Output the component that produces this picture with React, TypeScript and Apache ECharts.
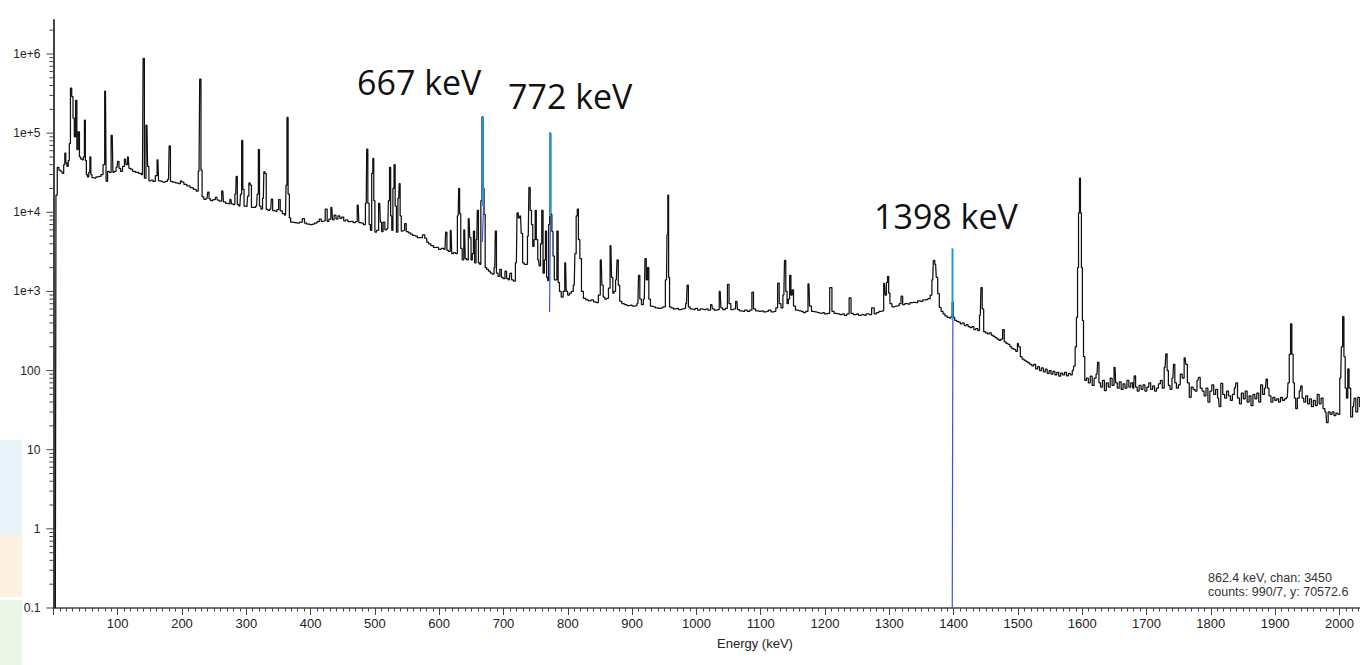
import { useEffect, useRef } from "react";
import * as echarts from "echarts";

// ---------------- data (energy keV, counts) ----------------
const spectrumLow: [number, number][] = [
  [3, 0.1], [5, 16500], [7, 37000], [10, 34000], [13, 33000], [15, 31000], [17, 40000], [18.5, 56000],
  [20, 42000], [22, 38000], [24, 45000], [25.5, 74000], [27.5, 370000], [29.5, 290000], [31.5, 155000],
  [33.5, 90000], [35.5, 260000], [37.5, 62000], [39.5, 104000], [41.5, 50000], [43.5, 47000], [45.5, 46000],
  [47.5, 50000], [49, 146000], [50.5, 45000], [52, 30000], [54, 28000], [56, 32000], [57.5, 50000],
  [59, 30000], [61, 27500], [64, 27000], [68, 28000], [72, 28500], [76, 30000], [78.5, 40000],
  [81, 340000], [83, 24600], [85.5, 33000], [88, 32000], [91.5, 94000], [93.5, 32000], [96, 33000],
  [99, 37000], [101, 44000], [103, 36000], [106, 33000], [109, 38000], [112, 47000], [114, 40000],
  [116.5, 50000], [118.5, 36000], [121, 35000], [125, 33000], [130, 32000], [135, 31000], [138.5, 30000],
  [140.5, 880000], [142.5, 27000], [145.5, 126000], [147.5, 38000], [149.5, 25000], [153, 25500],
  [157, 24500], [160, 29000], [162.5, 46000], [164.5, 25000], [168, 24500], [172, 24000], [176, 24500],
  [179, 26000], [181, 69000], [183, 24500], [187, 24000], [192, 23500], [196, 23000], [199, 25000],
  [201, 24000], [205, 22500], [210, 21500], [215, 20500], [220, 19500], [224, 18500], [226.5, 33000],
  [228.5, 480000], [230.5, 34000], [232, 15700], [236, 14600], [239, 15000], [241, 18000], [243, 14800],
  [246, 14000], [250, 14500], [254, 15500], [256, 14200], [260, 13800], [263.5, 18600], [265.5, 13500],
  [270, 13000], [273, 12800], [276, 14600], [278, 12800], [281, 12500], [283.5, 17000], [285, 28500],
  [287, 12500], [290, 12000], [292, 17000], [293.5, 81000], [295.5, 19500], [297.5, 12000], [301, 11800],
  [303, 16000], [305, 23500], [307, 22000], [309, 11500],
];

const spectrumMid: [number, number][] = [
  [313, 11500], [316, 12000], [318, 17000], [319.5, 62000], [321.5, 12000], [324, 11000], [326.5, 15000],
  [328, 32500], [330, 31000], [332, 10900], [335, 10600], [338, 11000], [340, 14700], [342, 10500],
  [346, 10300], [349, 10800], [351.5, 14500], [354, 10400], [358, 9600], [361, 9200], [362.5, 22000],
  [364, 158000], [366, 17000], [368, 8500], [370, 7500], [375, 7400], [380, 7300], [385, 7500], [389, 8300],
  [392, 7300], [396, 7100], [400, 7000], [404, 7100], [408, 7300], [412, 7600], [415, 8200], [418, 7700],
  [421, 7800], [424.5, 11000], [427, 7700], [430, 8200], [433, 11500], [435, 8000], [438, 9200], [441, 8200],
  [444, 9000], [447, 8400], [450, 8700], [453, 7800], [456, 8000], [460, 7600], [464, 7700], [468, 7400],
  [471, 7600], [474, 12300], [476, 7400], [480, 7300], [484, 7000], [486.5, 13000], [488, 63000],
  [490, 13000], [492, 7000], [494, 5900], [496, 31000], [497.5, 48000], [499, 14000], [501, 5600],
  [504, 5900], [507.5, 13000], [509.5, 7500], [511.5, 5700], [514, 7500], [517, 6000], [520, 6200],
  [522, 14000], [523.5, 37000], [525.5, 9000], [527, 5900], [529, 20000], [530.5, 40000], [532.5, 12000],
  [534.5, 5600], [537, 15000], [538.5, 23000], [540, 9000], [542, 5800], [545, 5900], [547.5, 7200],
  [550, 5700], [554, 5500], [557, 5300], [560, 5100], [564, 5000], [568, 4800], [572, 4800], [576, 5200],
  [579, 4700], [582, 4200], [585, 4000], [589, 3800], [593, 3600], [597, 3600], [601, 3400], [605, 3500],
  [609, 3400], [611, 5600], [613, 3300], [616, 3200], [618.5, 5900], [620.5, 3000], [624, 3100],
  [627, 3000], [629.5, 9000], [631, 20000], [632.5, 9600], [634.5, 3500], [637, 2500], [639.5, 6000],
  [641.5, 2600], [644, 2500], [646.5, 8300], [648.5, 4800], [650.5, 2500], [652.5, 3000], [654, 5800],
  [656, 2300], [658.5, 4500], [660, 10600], [662, 2300], [664, 2200], [665.5, 14000], [667.5, 160000],
  [669, 20000], [670.5, 9400], [672.5, 2000], [675, 1900], [678, 1800], [681, 1700], [684, 1650],
  [686.5, 2000], [688, 5800], [690, 1700], [693, 1550], [695.5, 1900], [698, 1500],
];

const spectrumUpper: [number, number][] = [
  [701, 1450], [703.5, 1800], [706, 1450], [709, 1400], [711, 1700], [714, 1400], [717, 1350], [720, 2300],
  [722, 9800], [724, 8500], [726.5, 9000], [728.5, 5400], [731, 2300], [733.5, 2200], [736, 2200],
  [738.5, 5000], [740.5, 20600], [742.5, 10600], [744.5, 7000], [746.5, 3700], [748.5, 4500],
  [750, 10600], [752, 4500], [754.5, 2500], [756.5, 2100], [758.5, 4000], [760.5, 10600], [762.5, 1700],
  [764.5, 2500], [766, 5800], [768, 1500], [769.5, 1370], [771, 7000], [772.5, 100000], [774.5, 9400],
  [776, 5700], [778, 2800], [780, 1400], [782, 1400], [784, 5800], [786, 1300], [788, 1000], [791.5, 850],
  [794, 1000], [796.5, 2300], [798.5, 1000], [801, 900], [804, 950], [807, 1000], [810, 1200], [812, 3000],
  [814, 9000], [815.5, 11000], [817.5, 4500], [820, 2600], [822.5, 1000], [826, 820], [830, 780],
  [834, 760], [838, 780], [842, 740], [846, 720], [849, 900], [852, 2500], [854, 1200], [856, 850],
  [859, 800], [862, 820], [864.5, 1100], [867, 3800], [869, 1500], [871, 950], [873, 1000], [875.5, 1400],
  [877.5, 2500], [879.5, 1200], [882, 750], [886, 700], [890, 680], [894, 660], [898, 670], [902, 650],
  [906, 660], [909, 700], [911, 1600], [913, 800], [916, 680], [919, 800], [921, 2600], [923, 1400],
  [925, 2000], [927, 800], [930, 650], [934, 640], [938, 620], [942, 610], [946, 620], [950, 640],
  [953.5, 1400], [955, 5200], [956, 16500], [957.5, 1500], [959, 640], [962, 620], [966, 600], [970, 610],
  [974, 590], [978, 600], [982, 610], [984.5, 700], [986.5, 1200], [988.5, 640], [992, 600], [996, 590],
  [1000, 610], [1004, 580], [1008, 600], [1012, 590], [1016, 600], [1020, 580], [1024, 680], [1026, 600],
  [1030, 580], [1034, 590], [1037, 1000], [1039, 620], [1043, 590], [1047, 610], [1049.5, 1230],
  [1052, 700], [1055, 590], [1059, 600], [1063, 750], [1065, 590], [1069, 570], [1073, 560], [1077, 580],
  [1081, 560], [1085, 580], [1087.5, 980], [1090, 600], [1094, 570], [1098, 560],
];

const spectrumHigh: [number, number][] = [
  [1102, 570], [1106, 550], [1110, 560], [1114, 580], [1118, 550], [1122, 560], [1125, 620], [1127.5, 1270],
  [1130, 700], [1133, 620], [1136, 900], [1138, 2460], [1140, 1000], [1142, 700], [1144, 800], [1146, 1600],
  [1148, 900], [1150, 1050], [1152, 650], [1156, 580], [1160, 570], [1164, 560], [1168, 540], [1172, 560],
  [1175, 1250], [1177, 650], [1181, 560], [1185, 550], [1189, 540], [1193, 530], [1197, 540], [1201, 520],
  [1205, 530], [1209.5, 1120], [1212, 560], [1216, 530], [1220, 520], [1224, 510], [1228, 520], [1232, 500],
  [1236, 520], [1239, 830], [1242, 530], [1246, 510], [1250, 520], [1254, 500], [1258, 510], [1262, 500],
  [1266, 520], [1270, 510], [1275, 620], [1278, 520], [1282, 540], [1286, 560], [1290, 570], [1292.5, 1260],
  [1294.5, 900], [1296.5, 1300], [1298, 1550], [1300, 950], [1302, 700], [1306, 640], [1310, 650],
  [1314, 660], [1317, 700], [1319.5, 870], [1322, 680], [1326, 700], [1330, 690], [1334, 720], [1338, 730],
  [1342, 720], [1346, 760], [1350, 750], [1354, 780], [1358, 790], [1362, 810], [1365, 900], [1367.5, 1400],
  [1369.5, 2460], [1372, 2200], [1374, 1500], [1376.5, 940], [1379, 630], [1382, 560], [1385, 520],
  [1388, 490], [1392, 470], [1395, 460], [1397, 480], [1398.5, 730], [1400.5, 470], [1403, 430], [1406, 420],
  [1409, 410], [1412, 390], [1415, 400], [1418, 370], [1421, 380], [1424, 360], [1427, 350], [1430, 360],
  [1433, 330], [1436, 340], [1439, 320], [1441.5, 500], [1443.5, 1120], [1445.5, 600], [1448, 310],
  [1451, 300], [1454, 290], [1457, 300], [1460, 280], [1463, 270], [1466, 260], [1469, 250], [1472, 240],
  [1475, 250], [1477.5, 330], [1480, 230], [1483, 220], [1486, 215], [1489, 200], [1492, 190], [1495, 185],
  [1498, 175], [1500.5, 220], [1502.5, 200], [1505, 150], [1508, 140], [1511, 135], [1514, 130], [1517, 125],
  [1520, 120], [1523, 115], [1526, 120], [1529, 105], [1532, 112], [1535, 100], [1538, 108], [1541, 96],
  [1544, 104], [1547, 92], [1550, 100], [1553, 90], [1556, 98], [1559, 88], [1562, 95], [1565, 85],
  [1568, 93], [1571, 88], [1574, 95], [1577, 86], [1580, 92], [1583, 88], [1586, 100], [1588, 115],
  [1590, 200], [1592, 470], [1593.5, 2000], [1595, 9800], [1596.5, 27000], [1598, 9800], [1599.5, 2000],
  [1601, 430], [1603, 150], [1605, 75],
];

const spectrumTail: [number, number][] = [
  [1608, 80], [1611, 70], [1614, 85], [1617, 65], [1620, 80], [1623, 90], [1625, 127], [1627, 70],
  [1630, 62], [1633, 75], [1636, 56], [1639, 70], [1642, 62], [1645, 80], [1648, 65], [1651, 110],
  [1653, 70], [1656, 60], [1659, 72], [1662, 58], [1665, 68], [1668, 60], [1671, 75], [1674, 62],
  [1677, 70], [1680, 60], [1682, 86], [1684, 62], [1687, 55], [1690, 65], [1693, 58], [1696, 66],
  [1699, 55], [1702, 62], [1705, 70], [1708, 58], [1711, 64], [1714, 55], [1717, 60], [1720, 68],
  [1723, 75], [1726, 60], [1729, 110], [1731, 163], [1733, 100], [1735, 65], [1738, 58], [1741, 80],
  [1743, 120], [1745, 70], [1748, 60], [1751, 66], [1754, 90], [1757, 80], [1760, 145], [1762, 120],
  [1765, 70], [1768, 46], [1771, 62], [1774, 58], [1777, 55], [1780, 75], [1782, 82], [1785, 60],
  [1788, 55], [1791, 48], [1794, 60], [1797, 40], [1800, 55], [1803, 66], [1806, 50], [1809, 58],
  [1812, 45], [1814, 35], [1817, 69], [1820, 50], [1823, 45], [1826, 55], [1829, 48], [1832, 42],
  [1835, 50], [1838, 60], [1840, 70], [1843, 45], [1846, 38], [1849, 52], [1852, 44], [1855, 55],
  [1858, 40], [1861, 48], [1864, 36], [1867, 50], [1870, 44], [1873, 52], [1876, 40], [1879, 66],
  [1882, 50], [1885, 60], [1887, 78], [1889, 60], [1892, 48], [1895, 40], [1898, 46], [1901, 42],
  [1904, 44], [1907, 40], [1910, 46], [1913, 42], [1916, 44], [1919, 46], [1921, 70], [1923, 160],
  [1925, 390], [1927, 160], [1929, 70], [1931, 45], [1933, 33], [1936, 45], [1939, 55], [1941, 64],
  [1943, 45], [1946, 40], [1949, 48], [1952, 38], [1955, 44], [1958, 35], [1961, 42], [1964, 36],
  [1967, 50], [1970, 38], [1973, 45], [1976, 33], [1979, 30], [1981, 22], [1984, 30], [1987, 28],
  [1990, 30], [1993, 27], [1996, 29], [1999, 28], [2002, 80], [2004, 200], [2006, 480], [2008, 150],
  [2010, 60], [2012, 45], [2014, 105], [2016, 60], [2019, 26], [2022, 35], [2024, 45], [2027, 30],
  [2030, 46], [2033, 35],
];

// highlighted lines (fitted peaks)
const markerEnergy = [667.6, 772.3, 1398.3];
const markerTop = [160000, 102000, 3500];
const markerMid = [12000, 9000, 435];
const markerLowStartE = [669, 773, 1398.8];
const markerLowEndE = [667, 771.6, 1397.9];
const markerLowEnd = [4200, 550, 0.1];
const markerLabels = ["667 keV", "772 keV", "1398 keV"];

const xMin = 0;
const xMax = 2032;
const xStep = 100;
const yMin = 0.1;
const yMax = 2.69e6;
const xAxisTitle = "Energy (keV)";
const readout = ["862.4 keV, chan: 3450", "counts: 990/7, y: 70572.6"];

const AXIS_FONT = "'Liberation Sans', Arial, Helvetica, sans-serif";

export default function App() {
  const ref = useRef<HTMLDivElement>(null);

  useEffect(() => {
    if (!ref.current) return;
    const chart = echarts.init(ref.current, undefined, { renderer: "svg" });
    const spectrum = [...spectrumLow, ...spectrumMid, ...spectrumUpper, ...spectrumHigh, ...spectrumTail];

    const markerSeries: any[] = [];
    markerEnergy.forEach((e, i) => {
      markerSeries.push({
        type: "line",
        data: [[e, markerTop[i]], [e, markerMid[i]]],
        symbol: "none",
        lineStyle: { color: "#1b9be3", width: 2 },
        z: 5,
        silent: true,
      });
      markerSeries.push({
        type: "line",
        data: [[markerLowStartE[i], markerMid[i]], [markerLowEndE[i], markerLowEnd[i]]],
        symbol: "none",
        lineStyle: { color: "#3a55dc", width: 1.2 },
        z: 5,
        silent: true,
      });
    });

    chart.setOption({
      animation: false,
      backgroundColor: "#ffffff",
      grid: { left: 53.4, right: 0, top: 20, bottom: 57 },
      xAxis: {
        type: "value",
        min: xMin,
        max: xMax,
        interval: xStep,
        axisLine: { onZero: false, lineStyle: { color: "#444", width: 1.5 } },
        axisTick: { length: 7, lineStyle: { color: "#444", width: 1 } },
        minorTick: { show: true, splitNumber: 10, length: 3.5, lineStyle: { color: "#444", width: 1 } },
        axisLabel: {
          color: "#222",
          fontSize: 13,
          fontFamily: AXIS_FONT,
          margin: 9,
          showMinLabel: false,
          showMaxLabel: false,
          formatter: (v: number) => String(v),
        },
        splitLine: { show: false },
      },
      yAxis: {
        type: "log",
        logBase: 10,
        min: yMin,
        max: yMax,
        axisLine: { show: true, lineStyle: { color: "#444", width: 2 } },
        axisTick: { show: false },
        axisLabel: {
          color: "#222",
          fontSize: 12,
          fontFamily: AXIS_FONT,
          margin: 13,
          showMaxLabel: false,
          formatter: (v: number) => {
            const p = Math.round(Math.log10(v));
            return p >= 3 ? `1e+${p}` : String(Math.pow(10, p));
          },
        },
        splitLine: { show: false },
      },
      series: [
        {
          type: "line",
          data: spectrum,
          step: "middle",
          symbol: "none",
          lineStyle: { color: "#111", width: 1.25 },
          silent: true,
          z: 2,
        },
        ...markerSeries,
      ],
    });

    const elements: any[] = [];
    // faint slide-background tints at the left edge
    const tints = [
      { y: 440, h: 95, c: "rgba(190,222,240,0.35)" },
      { y: 535, h: 62, c: "rgba(250,215,170,0.35)" },
      { y: 600, h: 65, c: "rgba(200,230,190,0.35)" },
    ];
    tints.forEach((t) =>
      elements.push({
        type: "rect",
        silent: true,
        z: -10,
        shape: { x: 0, y: t.y, width: 22, height: t.h },
        style: { fill: t.c },
      })
    );

    // log-style ticks on the y axis (majors + 2..9 minors)
    const axisX = chart.convertToPixel({ xAxisIndex: 0 }, xMin) as number;
    for (let p = -1; p <= 6; p++) {
      for (let m = 1; m <= 9; m++) {
        const v = m * Math.pow(10, p);
        if (v > yMax) continue;
        const py = chart.convertToPixel({ yAxisIndex: 0 }, v) as number;
        const len = m === 1 ? 7 : 4;
        elements.push({
          type: "line",
          silent: true,
          shape: { x1: axisX - len, y1: py, x2: axisX, y2: py },
          style: { stroke: "#444", lineWidth: 1 },
        });
      }
    }
    const labelPos = [
      [357, 81.5],
      [508, 95.5],
      [874, 215.5],
    ];
    markerLabels.forEach((t, i) => {
      elements.push({
        type: "text",
        silent: true,
        x: labelPos[i][0],
        y: labelPos[i][1],
        style: {
          text: t,
          fontSize: 34,
          fontFamily: "'Open Sans', 'Noto Sans', sans-serif",
          fill: "#111",
          align: "left",
          verticalAlign: "middle",
        },
      });
    });
    readout.forEach((t, i) => {
      elements.push({
        type: "text",
        silent: true,
        x: 1208,
        y: 578 + i * 14,
        style: {
          text: t,
          fontSize: 12.5,
          fontFamily: AXIS_FONT,
          fill: "#333",
          align: "left",
          verticalAlign: "middle",
        },
      });
    });
    elements.push({
      type: "text",
      silent: true,
      x: 755,
      y: 643,
      style: {
        text: xAxisTitle,
        fontSize: 13,
        fontFamily: AXIS_FONT,
        fill: "#222",
        align: "center",
        verticalAlign: "middle",
      },
    });
    chart.setOption({ graphic: { elements } });

    return () => chart.dispose();
  }, []);

  return (
    <div
      ref={ref}
      style={{ position: "absolute", left: 0, top: 0, width: 1360, height: 665, background: "#fff" }}
    />
  );
}
